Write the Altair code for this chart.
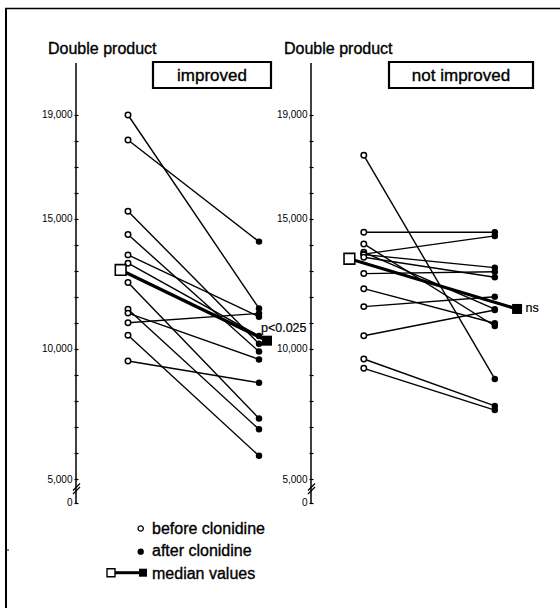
import altair as alt
import pandas as pd

# ---------------- data (double product) ----------------
improved_before = [19000, 18040, 15300, 14400, 13620, 13300, 12560, 11530, 11380, 11010, 10530, 9540]
improved_after = [11560, 14130, 10200, 9900, 11240, 10500, 7330, 6910, 9600, 11370, 5890, 8705]
improved_median = [13040, 10320]

not_improved_before = [17450, 14490, 12900, 11630, 10510, 12320, 9615, 9258, 14040, 13720, 13650, 13630, 13530]
not_improved_after = [8850, 14490, 12970, 12010, 11500, 10990, 7810, 7650, 10885, 11530, 14350, 13130, 12760]
not_improved_median = [13470, 11540]

panel_titles = ["improved", "not improved"]
axis_title = "Double product"
tick_values = list(range(5000, 19001, 1000))
labelled_ticks = [5000, 10000, 15000, 19000]
legend_labels = ["before clonidine", "after clonidine", "median values"]
annotations = ["p<0.025", "ns"]

# ---------------- layout ----------------
W, H = 560, 608
PX_PER_UNIT = 131.0
X_ORIGIN_PX = 128.0


def xu(px):
    return (px - X_ORIGIN_PX) / PX_PER_UNIT


Y_BOT_VAL, Y_TOP_VAL = 38.5, 23423
ZERO_POS = 4077          # where the "0" of the broken axis sits
AXIS_TOP = 21000
panel_offset = [0.0, 1.80]
axis_px = [76, 311]
median_dx = [(-0.056, 1.061), (-0.11, 1.17)]
FONT = "Liberation Sans"
TEXT_STROKE = 0.35

xscale = alt.Scale(domain=[xu(0), xu(W)], nice=False, zero=False)
yscale = alt.Scale(domain=[Y_BOT_VAL, Y_TOP_VAL], nice=False, zero=False)

cond = " || ".join(f"datum.value == {v}" for v in labelled_ticks)
label_expr = f"datum.value < 4500 ? '0' : (({cond}) ? format(datum.value, ',') : '')"


def yaxis(p):
    return alt.Axis(orient="left", offset=-(axis_px[p] + 2), values=[ZERO_POS] + tick_values,
                    labelExpr=label_expr, tickSize=4, tickWidth=1.2, tickColor="black",
                    domain=False, grid=False, labelFont=FONT, labelFontSize=10,
                    labelColor="black", labelPadding=2, title=None, labelOverlap=False,
                    labelBound=False)


rows, mrows = [], []
series = [(improved_before, improved_after, improved_median),
          (not_improved_before, not_improved_after, not_improved_median)]
for p, (b, a, m) in enumerate(series):
    for i, (vb, va) in enumerate(zip(b, a)):
        rows.append(dict(panel=p, pid=f"{p}-{i}", phase="before", x=panel_offset[p], value=vb))
        rows.append(dict(panel=p, pid=f"{p}-{i}", phase="after", x=panel_offset[p] + 1, value=va))
    mrows.append(dict(panel=p, phase="before", x=panel_offset[p] + median_dx[p][0], value=m[0]))
    mrows.append(dict(panel=p, phase="after", x=panel_offset[p] + median_dx[p][1], value=m[1]))
pts = pd.DataFrame(rows)
med = pd.DataFrame(mrows)


def panel_layers(p):
    d = pts[pts.panel == p]
    m = med[med.panel == p]
    X = alt.X("x:Q", scale=xscale, axis=None)
    Y = alt.Y("value:Q", scale=yscale, axis=yaxis(p))
    ax = pd.DataFrame([dict(x=xu(axis_px[p]), y=ZERO_POS, y2=AXIS_TOP)])
    ax_px = axis_px[p]
    brk = pd.DataFrame([
        dict(x=xu(ax_px - 3), x2=xu(ax_px + 4), y=4560, y2=4830),
        dict(x=xu(ax_px - 3), x2=xu(ax_px + 4), y=4420, y2=4690),
    ])
    axis_line = alt.Chart(ax).mark_rule(color="black", strokeWidth=1.5).encode(
        x=alt.X("x:Q", scale=xscale, axis=None),
        y=alt.Y("y:Q", scale=yscale, axis=yaxis(p)), y2="y2:Q")
    breaks = alt.Chart(brk).mark_rule(color="black", strokeWidth=1.3).encode(
        x=alt.X("x:Q", scale=xscale, axis=None), x2="x2:Q",
        y=alt.Y("y:Q", scale=yscale, axis=yaxis(p)), y2="y2:Q")
    lines = alt.Chart(d).mark_line(color="black", strokeWidth=1.4).encode(
        x=X, y=Y, detail="pid:N", order="x:Q")
    mline = alt.Chart(m).mark_line(color="black", strokeWidth=3.2).encode(x=X, y=Y, order="x:Q")
    before = alt.Chart(d).transform_filter("datum.phase == 'before'").mark_point(
        shape="circle", filled=True, fill="white", stroke="black", strokeWidth=1.5,
        size=30, opacity=1).encode(x=X, y=Y)
    after = alt.Chart(d).transform_filter("datum.phase == 'after'").mark_circle(
        color="black", size=42, opacity=1).encode(x=X, y=Y)
    mb = alt.Chart(m).transform_filter("datum.phase == 'before'").mark_point(
        shape="square", filled=True, fill="white", stroke="black", strokeWidth=1.6,
        size=115, opacity=1).encode(x=X, y=Y)
    ma = alt.Chart(m).transform_filter("datum.phase == 'after'").mark_point(
        shape="square", filled=True, color="black", size=100, opacity=1).encode(x=X, y=Y)
    ann = pd.DataFrame([dict(x=m.x.iloc[1], value=m.value.iloc[1], t=annotations[p])])
    if p == 0:
        txt = alt.Chart(ann).mark_text(align="left", baseline="alphabetic", dx=-6, dy=-9,
                                       fontSize=12.5, font=FONT, color="black",
                                       stroke="black", strokeWidth=0.2)
    else:
        txt = alt.Chart(ann).mark_text(align="left", baseline="alphabetic", dx=8.5, dy=3.5,
                                       fontSize=12.5, font=FONT, color="black",
                                       stroke="black", strokeWidth=0.2)
    txt = txt.encode(x=X, y=Y, text="t:N")
    return alt.layer(axis_line, breaks, lines, mline, before, after, mb, ma, txt)


# ---------------- decorations ----------------
def text_layer(txt, x, y, size, align="left"):
    return alt.Chart(pd.DataFrame({"t": [txt]})).mark_text(
        align=align, baseline="alphabetic", fontSize=size, font=FONT, color="black",
        stroke="black", strokeWidth=TEXT_STROKE
    ).encode(x=alt.value(x), y=alt.value(y), text="t:N")


def box(x1, x2, y1, y2):
    return alt.Chart(pd.DataFrame({"k": [0]})).mark_rect(
        fill="white", stroke="black", strokeWidth=2.2).encode(
        x=alt.value(x1), x2=alt.value(x2), y=alt.value(y1), y2=alt.value(y2))


one = pd.DataFrame({"k": [0]})
frame_left = alt.Chart(one).mark_rule(color="black", strokeWidth=2).encode(
    x=alt.value(6), y=alt.value(8), y2=alt.value(H))
frame_top = alt.Chart(one).mark_rule(color="black", strokeWidth=1.5).encode(
    x=alt.value(5), x2=alt.value(W), y=alt.value(8.5))
frame_tick = alt.Chart(one).mark_rule(color="black", strokeWidth=1).encode(
    x=alt.value(6), x2=alt.value(9), y=alt.value(550))

decor = [
    frame_left, frame_top, frame_tick,
    text_layer(axis_title, 48, 53.5, 16),
    text_layer(axis_title, 284, 53.5, 16),
    box(153, 271, 62, 88), text_layer(panel_titles[0], 212, 81, 17, "center"),
    box(389, 533, 62, 88), text_layer(panel_titles[1], 461, 81, 17, "center"),
    # legend
    alt.Chart(one).mark_point(shape="circle", filled=True, fill="white", stroke="black",
                              strokeWidth=1.3, size=28, opacity=1).encode(
        x=alt.value(140.7), y=alt.value(528.5)),
    alt.Chart(one).mark_circle(color="black", size=40, opacity=1).encode(
        x=alt.value(140.7), y=alt.value(551.7)),
    alt.Chart(one).mark_rule(color="black", strokeWidth=3).encode(
        x=alt.value(111), x2=alt.value(143), y=alt.value(572.7)),
    alt.Chart(one).mark_point(shape="square", filled=True, fill="white", stroke="black",
                              strokeWidth=1.4, size=64, opacity=1).encode(
        x=alt.value(111), y=alt.value(572.7)),
    alt.Chart(one).mark_point(shape="square", filled=True, color="black", size=64,
                              opacity=1).encode(x=alt.value(143), y=alt.value(572.7)),
    text_layer(legend_labels[0], 152, 533.5, 16),
    text_layer(legend_labels[1], 152, 556, 16),
    text_layer(legend_labels[2], 152, 578.5, 16),
]

chart = alt.layer(panel_layers(0), panel_layers(1), *decor).resolve_scale(
    y="independent"
).properties(
    width=W, height=H, padding=0, autosize=alt.AutoSizeParams(type="none"),
    background="white"
).configure_view(strokeWidth=0)

chart.save("out.html", embed_options={"renderer": "svg", "actions": False})
